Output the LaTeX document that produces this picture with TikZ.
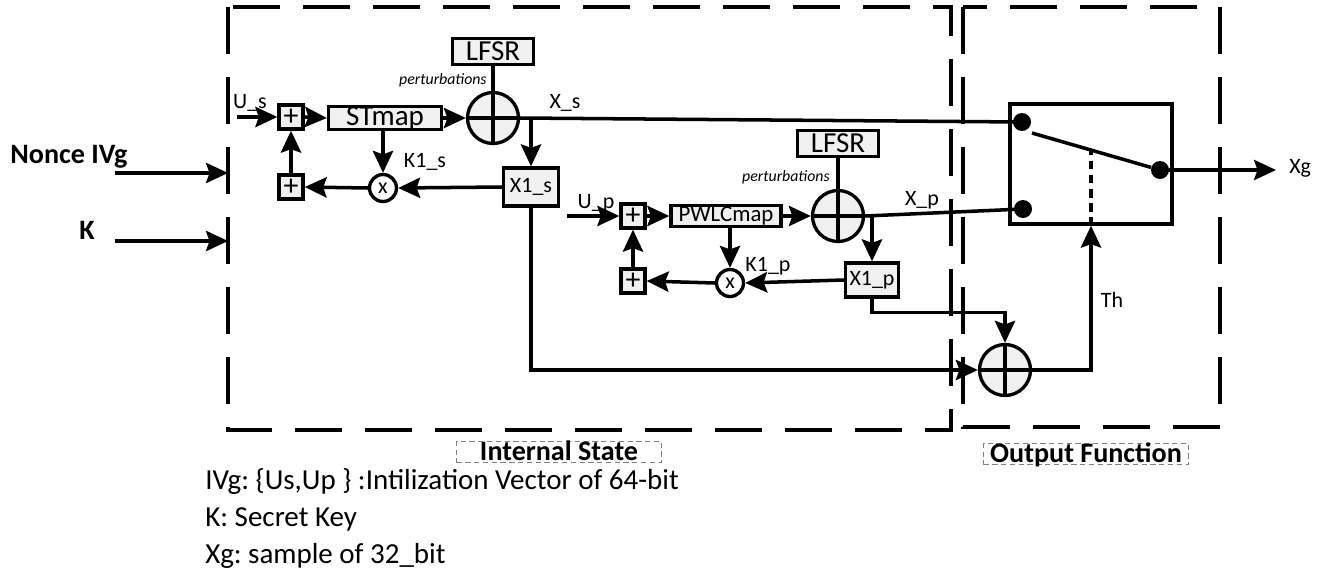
\documentclass[tikz,border=0pt]{standalone}
\usepackage{fontspec}
\setmainfont{Carlito}
\usepackage{tikz}
\usetikzlibrary{arrows.meta,positioning,calc}
\definecolor{blkFill}{HTML}{F0F0F0}
\definecolor{tagGray}{HTML}{808080}
\frenchspacing

\begin{document}
\begin{tikzpicture}[
  x=0.02cm, y=-0.02cm,
  >={Stealth[length=12.5pt,width=11.5pt,inset=2pt]},
  blk/.style={draw, line width=1.9pt, fill=blkFill, inner sep=0pt, align=center},
  addbox/.style={blk, minimum size=0.48cm, font=\fontsize{17}{17}\selectfont},
  mul/.style={circle, draw, line width=1.9pt, fill=white, inner sep=0pt,
    minimum size=0.54cm, font=\fontsize{12.5}{12.5}\selectfont},
  xorc/.style={circle, draw, line width=1.9pt, fill=blkFill, minimum size=1.02cm,
    path picture={\draw[line width=1.9pt]
      (path picture bounding box.north) -- (path picture bounding box.south)
      (path picture bounding box.west) -- (path picture bounding box.east);}},
  lfsr/.style={blk, minimum width=1.62cm, minimum height=0.52cm, font=\fontsize{16.5}{16.5}\selectfont},
  wire/.style={line width=2pt},
  flow/.style={->, line width=2pt},
  zone/.style={line width=2pt, dash pattern=on 0.94cm off 0.46cm},
  tag/.style={draw=tagGray, densely dashed, line width=0.5pt, inner xsep=1pt, inner ysep=0pt,
    text height=11pt, text depth=1pt, font=\bfseries\fontsize{16}{16}\selectfont},
  lbl/.style={font=\fontsize{12.5}{12.5}\selectfont, inner sep=0pt},
  pert/.style={font=\itshape\fontsize{9}{9}\selectfont, inner sep=0pt},
  legend/.style={font=\fontsize{16.5}{16.5}\selectfont, inner sep=0pt},
  dot/.style={circle, fill, inner sep=0pt, minimum size=0.36cm}
]
  \useasboundingbox (0,0) rectangle (1329,572);

  % dashed zones
  \draw[zone] (228,7) rectangle (951,430);
  \draw[zone] (963,7) rectangle (1220,427);
  \node[tag, minimum width=4.1cm] (tagIS) at (559,452) {Internal State};
  \node[tag, minimum width=4.1cm] (tagOF) at (1086,454) {Output Function};

  % inputs
  \node[font=\bfseries\fontsize{16}{16}\selectfont] (nonce) at (69,157) {Nonce IVg};
  \node[font=\bfseries\fontsize{16}{16}\selectfont] (keyK) at (87,230) {K};
  \coordinate (inN) at (115,173);
  \coordinate (inNe) at (228,173);
  \coordinate (inK) at (115,241);
  \coordinate (inKe) at (228,241);
  \draw[flow] (inN) -- (inNe);
  \draw[flow] (inK) -- (inKe);

  % skew tent branch
  \node[addbox] (addA) at (291,117) {+};
  \node[addbox] (addB) at (291,187) {+};
  \node[blk, minimum width=2.26cm, minimum height=0.42cm, font=\fontsize{16.5}{16.5}\selectfont] (stmap) at (385,118) {STmap};
  \node[xorc] (xorA) at (493,118) {};
  \node[lfsr, above=0.5cm of xorA] (lfsrA) {LFSR};
  \node[blk, minimum width=1.1cm, minimum height=0.76cm, font=\fontsize{12.5}{12.5}\selectfont] (xones) at (531,187) {X1\_s};
  \node[mul] (mulA) at (383,188) {x};
  \node[lbl] (lUs) at (250,103) {U\_s};
  \node[lbl] (lXs) at (565,103) {X\_s};
  \node[lbl] (lKs) at (425,162) {K1\_s};
  \node[pert, anchor=east] (pertA) at (487,80) {perturbations};

  % pwlc branch
  \node[addbox] (addC) at (633,216) {+};
  \node[addbox] (addD) at (633,281) {+};
  \node[blk, minimum width=2.2cm, minimum height=0.42cm, font=\fontsize{13}{13}\selectfont] (pwlc) at (726,216) {PWLCmap};
  \node[xorc] (xorB) at (838,216) {};
  \node[lfsr, above=0.62cm of xorB] (lfsrB) {LFSR};
  \node[blk, minimum width=1.06cm, minimum height=0.68cm, font=\fontsize{12.5}{12.5}\selectfont] (xonep) at (872,280) {X1\_p};
  \node[mul] (mulB) at (730,283) {x};
  \node[lbl] (lUp) at (596,203) {U\_p};
  \node[lbl] (lXp) at (922,200) {X\_p};
  \node[lbl] (lKp) at (768,266) {K1\_p};
  \node[pert, anchor=east] (pertB) at (830,177) {perturbations};

  % output function
  \node[xorc] (xorC) at (1005,370) {};
  \node[draw, line width=1.9pt, minimum width=3.24cm, minimum height=2.4cm, inner sep=0pt] (sw) at (1091,164) {};
  \coordinate (armA) at (1032,133);
  \coordinate (xgEnd) at (1276,170);
  \node[lbl] (lTh) at (1112,300) {Th};
  \node[lbl, anchor=west] (lXg) at (1289,168) {Xg};

  % connectors
  \coordinate (usIn) at (237,117);
  \draw[flow] (usIn) -- (addA.west);
  \draw[flow] (addA.east) -- (stmap.west);
  \draw[flow] (stmap.east) -- (xorA.west);
  \draw[wire] (lfsrA.south) -- (xorA.north);
  \draw[wire] (xorA.east) -- (1022,122);
  \coordinate (brA) at (xones.north |- xorA.east);
  \draw[flow] (brA) -- (xones.north);
  \draw[flow] (xones.west) -- (mulA.east);
  \draw[flow] (stmap.south -| mulA) -- (mulA.north);
  \draw[flow] (mulA.west) -- (addB.east);
  \draw[flow] (addB.north) -- (addA.south);
  \draw[flow] (xones.south) |- (xorC.west);

  \coordinate (upIn) at (567,216);
  \draw[flow] (upIn) -- (addC.west);
  \draw[flow] (addC.east) -- (pwlc.west);
  \draw[flow] (pwlc.east) -- (xorB.west);
  \draw[wire] (lfsrB.south) -- (xorB.north);
  \draw[wire] (xorB.east) -- (1023,209);
  \coordinate (brB) at (xonep.north |- xorB.east);
  \draw[flow] (brB) -- (xonep.north);
  \draw[flow] (xonep.west) -- (mulB.east);
  \draw[flow] (pwlc.south -| mulB) -- (mulB.north);
  \draw[flow] (mulB.west) -- (addD.east);
  \draw[flow] (addD.north) -- (addC.south);
  \draw[flow] (xonep.south) -- ++(0,14) -| (xorC.north);

  \node[dot] (dotT) at (1022,122) {};
  \node[dot] (dotB) at (1023,209) {};
  \node[dot] (dotR) at (1160,170) {};
  \coordinate (armM) at ($(armA)!0.47!(dotR)$);
  \draw[wire] (armA) -- (dotR);
  \draw[flow] (xorC.east) -| (sw.south);
  \draw[line width=1.9pt, dash pattern=on 5pt off 3pt] (sw.south) -- (sw.south |- armM);
  \draw[flow] (dotR) -- (xgEnd);

  % legend
  \node[legend, anchor=base west] (legA) at (205,489) {IVg: \{Us,Up \} :Intilization Vector of 64-bit};
  \node[legend, anchor=base west] (legB) at (205,526) {K: Secret Key};
  \node[legend, anchor=base west] (legC) at (205,563) {Xg: sample of 32\_bit};
\end{tikzpicture}
\end{document}
